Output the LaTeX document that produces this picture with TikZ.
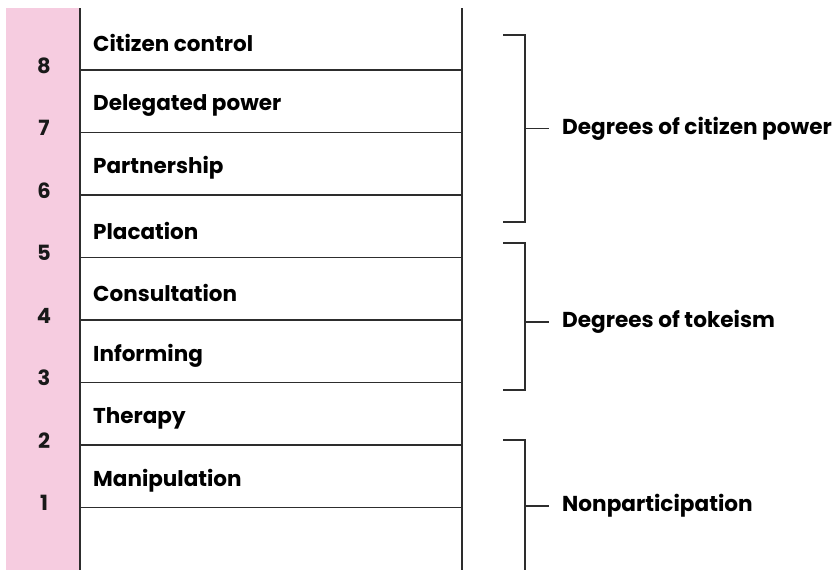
\documentclass[tikz,border=0pt]{standalone}
\usepackage{fontspec}
\setmainfont{Poppins}
\definecolor{pinkband}{RGB}{246,204,224}
\definecolor{linecol}{RGB}{45,45,45}
\begin{document}
\begin{tikzpicture}[x=1pt,y=-1pt,
  rung/.style={draw=linecol,line width=1.3pt},
  rail/.style={draw=linecol,line width=1.3pt},
  brk/.style={draw=linecol,line width=1.3pt},
  lbl/.style={anchor=west,inner sep=0pt,font=\fontsize{21.5}{24}\selectfont\bfseries,text=black},
  num/.style={inner sep=0pt,font=\fontsize{21}{24}\selectfont\bfseries,text=black!90},
  grp/.style={anchor=west,inner sep=0pt,font=\fontsize{21.6}{24}\selectfont\bfseries,text=black}]
\useasboundingbox (0,0) rectangle (839,570);
\fill[pinkband] (6,8) rectangle (80,570);
\draw[rail] (80,8) -- (80,570);
\draw[rail] (462,8) -- (462,570);
\foreach \i/\y in {8/70,7/132.5,6/195,5/257.5,4/320,3/382.5,2/445,1/507.5}{
  \draw[rung] (80,\y) -- (462,\y);
  \node[num] (n\i) at (44,\y-4.5) {\i};
}
\node[lbl] (l8) at (93,43) {Citizen control};
\node[lbl] (l7) at (93,105.5) {Delegated power};
\node[lbl] (l6) at (93,168) {Partnership};
\node[lbl] (l5) at (93,230.5) {Placation};
\node[lbl] (l4) at (93,293) {Consultation};
\node[lbl] (l3) at (93,355.5) {Informing};
\node[lbl] (l2) at (93,418) {Therapy};
\node[lbl] (l1) at (93,480.5) {Manipulation};
% brackets
\draw[brk] (503,35) -- (525,35) -- (525,222) -- (503,222);
\coordinate (b1) at (525,128.5);
\node[grp] (g1) at (562,128.5) {Degrees of citizen power};
\draw[brk] (b1) -- (g1.west -| 549,0);
\draw[brk] (503,243) -- (525,243) -- (525,390) -- (503,390);
\coordinate (b2) at (525,322);
\node[grp] (g2) at (562,322) {Degrees of tokeism};
\draw[brk] (b2) -- (g2.west -| 549,0);
\draw[brk] (503,440) -- (525,440) -- (525,570);
\coordinate (b3) at (525,506);
\node[grp] (g3) at (562,506) {Nonparticipation};
\draw[brk] (b3) -- (g3.west -| 549,0);
\end{tikzpicture}
\end{document}
